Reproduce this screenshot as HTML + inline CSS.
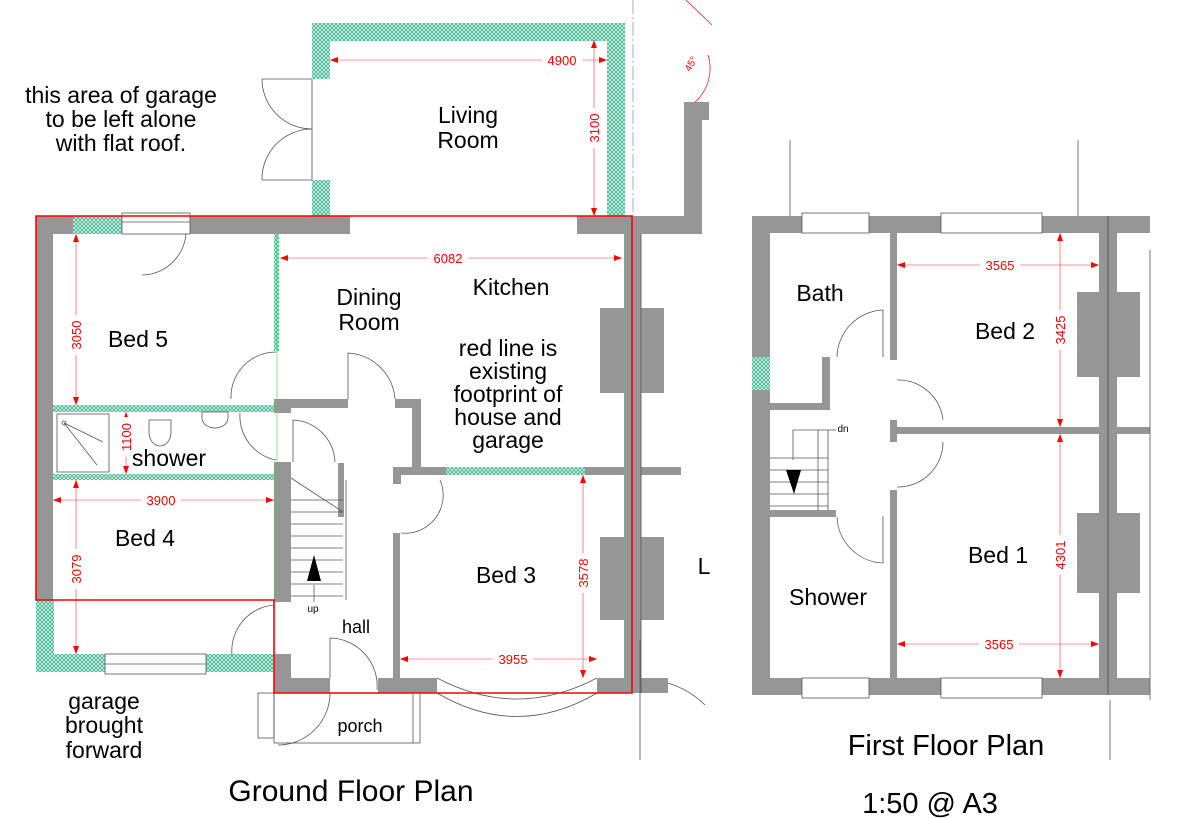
<!DOCTYPE html>
<html><head><meta charset="utf-8"><style>
html,body{margin:0;padding:0;background:#fff;}
svg{display:block;}
text{font-family:"Liberation Sans",sans-serif;fill:#000;}
.r{font-size:23px;}
.d{font-size:13px;fill:#f00;}
</style></head><body>
<svg width="1185" height="818" viewBox="0 0 1185 818" xmlns="http://www.w3.org/2000/svg">
<defs>
<pattern id="h" width="4" height="4" patternUnits="userSpaceOnUse"><rect width="4" height="4" fill="#d6f1e8"/><path d="M0,0L4,4M4,0L0,4" stroke="#3db58f" stroke-width="0.8"/></pattern>
<marker id="a" markerWidth="8" markerHeight="6" refX="8" refY="3" orient="auto-start-reverse" markerUnits="userSpaceOnUse"><path d="M0,0L8,3L0,6z" fill="#f00"/></marker>
</defs>
<g fill="#969696">
<rect x="36" y="216" width="37" height="18"/>
<rect x="190" y="216" width="160" height="18"/>
<rect x="36" y="216" width="17" height="384"/>
<rect x="577" y="216" width="125" height="18"/>
<rect x="684" y="102" width="18" height="120"/>
<rect x="684" y="102" width="25" height="18"/>
<rect x="624" y="216" width="17" height="477"/>
<rect x="641" y="467" width="40" height="8"/>
<rect x="641" y="678" width="27" height="15"/>
<rect x="274" y="462" width="17" height="140"/>
<rect x="274" y="654" width="17" height="39"/>
<rect x="274" y="678" width="56" height="15"/>
<rect x="378" y="678" width="59" height="15"/>
<rect x="597" y="678" width="35" height="15"/>
<rect x="274" y="399" width="74" height="9"/>
<rect x="274" y="399" width="17" height="14"/>
<rect x="395" y="399" width="25" height="9"/>
<rect x="412" y="399" width="9" height="68"/>
<rect x="393" y="467" width="53" height="8"/>
<rect x="393" y="467" width="8" height="17"/>
<rect x="585" y="467" width="40" height="8"/>
<rect x="393" y="533" width="7" height="145"/>
<rect x="338" y="463" width="6" height="54"/>
<rect x="600" y="308" width="24" height="85"/>
<rect x="641" y="308" width="23" height="85"/>
<rect x="600" y="537" width="24" height="83"/>
<rect x="641" y="537" width="23" height="83"/>
<rect x="752" y="216" width="18" height="479"/>
<rect x="752" y="216" width="50" height="17"/>
<rect x="869" y="216" width="72" height="17"/>
<rect x="1042" y="216" width="108" height="17"/>
<rect x="752" y="678" width="50" height="17"/>
<rect x="869" y="678" width="72" height="17"/>
<rect x="1042" y="678" width="108" height="17"/>
<rect x="1099" y="216" width="18" height="479"/>
<rect x="890" y="233" width="7" height="127"/>
<rect x="890" y="490" width="7" height="188"/>
<rect x="890" y="420" width="7" height="22"/>
<rect x="897" y="427" width="253" height="7"/>
<rect x="770" y="403" width="60" height="7"/>
<rect x="822" y="357" width="8" height="53"/>
<rect x="770" y="510" width="66" height="7"/>
<rect x="1077" y="292" width="63" height="85"/>
<rect x="1077" y="513" width="63" height="80"/>
</g>
<line x1="1108" y1="216" x2="1108" y2="695" stroke="#555" stroke-width="1"/>
<g fill="url(#h)">
<rect x="73" y="216" width="49" height="18"/>
<rect x="274" y="234" width="5" height="117"/>
<rect x="53" y="405" width="221" height="7"/>
<rect x="53" y="474" width="221" height="6"/>
<rect x="446" y="467" width="139" height="8"/>
<rect x="36" y="600" width="18" height="72"/>
<rect x="36" y="654" width="69" height="18"/>
<rect x="206" y="654" width="67" height="18"/>
<rect x="312" y="23" width="313" height="18"/>
<rect x="312" y="23" width="18" height="56"/>
<rect x="312" y="180" width="18" height="36"/>
<rect x="607" y="23" width="18" height="193"/>
<rect x="752" y="357" width="18" height="33"/>
</g>
<g fill="none" stroke="#555" stroke-width="0.8">
<rect x="122" y="213" width="68" height="21"/>
<line x1="122" y1="222" x2="190" y2="222"/>
<rect x="105" y="654" width="101" height="20"/>
<line x1="105" y1="664" x2="206" y2="664"/>
<rect x="802" y="213" width="67" height="20"/>
<rect x="941" y="213" width="101" height="20"/>
<rect x="802" y="678" width="67" height="20"/>
<rect x="941" y="678" width="101" height="20"/>
<rect x="57" y="414" width="52" height="58"/>
<path d="M64,423L103,442M64,423L97,465"/>
<circle cx="64" cy="423" r="2"/>
<path d="M149,420h22v12a11,14 0 0 1 -22,0z"/>
<path d="M202,412h26v6a13,10 0 0 1 -26,0z"/>
<path d="M142,275A45,45 0 0 0 186,234"/>
<path d="M231,399A45,45 0 0 1 276,352"/>
<path d="M240,413A45,45 0 0 0 276,460"/>
<path d="M348,353V399M348,353A50,50 0 0 1 395,399"/>
<path d="M293,420V462M293,420A44,44 0 0 1 335,462"/>
<path d="M401,533A38,38 0 0 0 440,480"/>
<path d="M232,655A46,46 0 0 1 274,605"/>
<path d="M330,638V678M330,638A48,48 0 0 1 377,690"/>
<path d="M278,745A52,52 0 0 0 330,693"/>
<path d="M437,678Q517,720 597,678M437,693Q517,740 597,693"/>
<path d="M668,683Q690,690 705,705"/>
<path d="M312,79h-50M312,180h-50M312,129A50,50 0 0 1 262,79M312,129A50,50 0 0 0 262,180M312,79V180"/>
<rect x="274" y="693" width="146" height="50"/>
<rect x="258" y="693" width="16" height="45"/>
<line x1="413" y1="693" x2="413" y2="743"/>
<path d="M291,500h52M291,512h52M291,524h52M291,536h52M291,548h52M291,560h52M291,572h52M291,584h52M291,596h52M346,480V600"/>
<path d="M291,478L343,512"/>
<line x1="314" y1="585" x2="314" y2="602"/>
<path d="M770,458h58M770,470h58M770,482h58M770,494h58M770,506h58M818,430V510M828,430V510M793,430V460M793,430H836"/>
<path d="M883,310V357M883,310A48,48 0 0 0 837,357"/>
<path d="M897,380A45,45 0 0 1 943,420"/>
<path d="M897,487A45,45 0 0 0 943,442"/>
<path d="M883,516V563M883,563A48,48 0 0 1 837,517"/>
<path d="M790,140V216M1078,140V216M1110,700V760M1150,250V700M640,640V760"/>
<line x1="641" y1="234" x2="641" y2="693"/>
</g>
<path d="M314,555l-7,26h14z" fill="#000"/>
<path d="M786,470h15l-7,24z" fill="#000"/>
<path d="M633,0V216" stroke="#999" stroke-width="0.8" stroke-dasharray="14,3,2,3" fill="none"/>
<path d="M686,0L712,25M708,55A45,45 0 0 1 695,102" stroke="#f00" stroke-width="0.7" fill="none"/>
<text x="690" y="72" style="font-size:10px;fill:#f00" transform="rotate(-60 690 72)">45°</text>
<path d="M36,216H632V693H274V600H36Z" fill="none" stroke="#f00" stroke-width="1.6"/>
<line x1="277" y1="234" x2="277" y2="600" stroke="#4c4" stroke-width="0.6"/>
<g stroke="#f33" stroke-width="0.6" fill="none" marker-start="url(#a)" marker-end="url(#a)">
<line x1="280" y1="258" x2="622" y2="258"/>
<line x1="76" y1="234" x2="76" y2="405"/>
<line x1="126" y1="412" x2="126" y2="474"/>
<line x1="53" y1="500" x2="274" y2="500"/>
<line x1="76" y1="480" x2="76" y2="654"/>
<line x1="400" y1="659" x2="597" y2="659"/>
<line x1="583" y1="475" x2="583" y2="678"/>
<line x1="330" y1="60" x2="607" y2="60"/>
<line x1="594" y1="40" x2="594" y2="216"/>
<line x1="897" y1="265" x2="1099" y2="265"/>
<line x1="897" y1="644" x2="1099" y2="644"/>
<line x1="1060" y1="233" x2="1060" y2="427"/>
<line x1="1060" y1="434" x2="1060" y2="678"/>
</g>
<g>
<rect x="428" y="250" width="40" height="15" fill="#fff"/><text x="448" y="263" text-anchor="middle" class="d">6082</text>
<rect x="141" y="492" width="40" height="15" fill="#fff"/><text x="161" y="505" text-anchor="middle" class="d">3900</text>
<rect x="493" y="651" width="40" height="15" fill="#fff"/><text x="513" y="664" text-anchor="middle" class="d">3955</text>
<rect x="542" y="52" width="40" height="15" fill="#fff"/><text x="562" y="65" text-anchor="middle" class="d">4900</text>
<rect x="980" y="257" width="40" height="15" fill="#fff"/><text x="1000" y="270" text-anchor="middle" class="d">3565</text>
<rect x="979" y="636" width="40" height="15" fill="#fff"/><text x="999" y="649" text-anchor="middle" class="d">3565</text>
<rect x="68" y="315" width="16" height="40" fill="#fff"/><text transform="translate(81,335) rotate(-90)" text-anchor="middle" class="d">3050</text>
<rect x="118" y="417" width="16" height="40" fill="#fff"/><text transform="translate(131,437) rotate(-90)" text-anchor="middle" class="d">1100</text>
<rect x="68" y="549" width="16" height="40" fill="#fff"/><text transform="translate(81,569) rotate(-90)" text-anchor="middle" class="d">3079</text>
<rect x="575" y="553" width="16" height="40" fill="#fff"/><text transform="translate(588,573) rotate(-90)" text-anchor="middle" class="d">3578</text>
<rect x="586" y="108" width="16" height="40" fill="#fff"/><text transform="translate(599,128) rotate(-90)" text-anchor="middle" class="d">3100</text>
<rect x="1052" y="310" width="16" height="40" fill="#fff"/><text transform="translate(1065,330) rotate(-90)" text-anchor="middle" class="d">3425</text>
<rect x="1052" y="535" width="16" height="40" fill="#fff"/><text transform="translate(1065,555) rotate(-90)" text-anchor="middle" class="d">4301</text>
</g>
<g class="r" text-anchor="middle">
<text x="121" y="103">this area of garage</text>
<text x="121" y="127">to be left alone</text>
<text x="121" y="151">with flat roof.</text>
<text x="468" y="123">Living</text>
<text x="468" y="148">Room</text>
<text x="369" y="305">Dining</text>
<text x="369" y="330">Room</text>
<text x="511" y="295">Kitchen</text>
<text x="508" y="356">red line is</text>
<text x="508" y="379">existing</text>
<text x="508" y="402">footprint of</text>
<text x="508" y="425">house and</text>
<text x="508" y="448">garage</text>
<text x="138" y="347">Bed 5</text>
<text x="169" y="466">shower</text>
<text x="145" y="546">Bed 4</text>
<text x="506" y="583">Bed 3</text>
<text x="356" y="633" style="font-size:18px">hall</text>
<text x="360" y="732" style="font-size:18px">porch</text>
<text x="704" y="574">L</text>
<text x="104" y="709">garage</text>
<text x="104" y="733">brought</text>
<text x="104" y="758">forward</text>
<text x="351" y="801" style="font-size:30px">Ground Floor Plan</text>
<text x="820" y="301">Bath</text>
<text x="1005" y="339">Bed 2</text>
<text x="998" y="563">Bed 1</text>
<text x="828" y="605">Shower</text>
<text x="946" y="755" style="font-size:29px">First Floor Plan</text>
<text x="930" y="813" style="font-size:29px">1:50 @ A3</text>
<text x="313" y="612" style="font-size:10px">up</text>
<text x="843" y="432" style="font-size:10px">dn</text>
</g>
</svg>
</body></html>
